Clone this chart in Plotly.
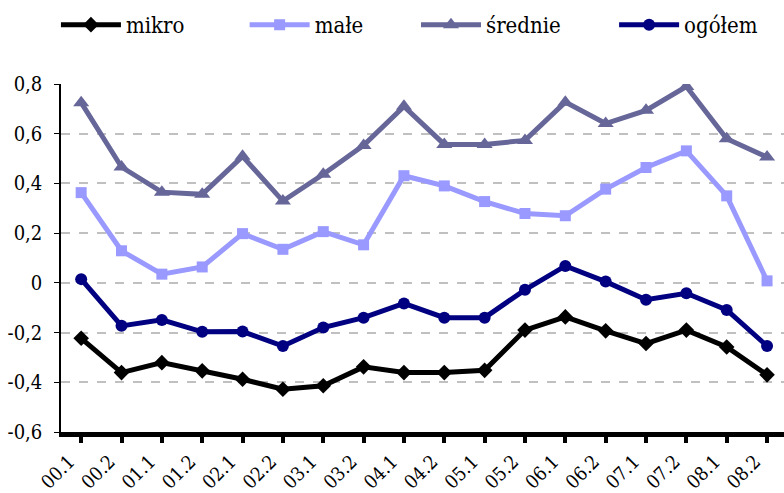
import plotly.graph_objects as go

# Half-year periods
periods = ["00.1", "00.2", "01.1", "01.2", "02.1", "02.2", "03.1", "03.2", "04.1",
           "04.2", "05.1", "05.2", "06.1", "06.2", "07.1", "07.2", "08.1", "08.2"]

mikro = [-0.223, -0.361, -0.321, -0.354, -0.388, -0.428, -0.414, -0.338, -0.361,
         -0.361, -0.352, -0.190, -0.137, -0.193, -0.244, -0.190, -0.258, -0.370]
male = [0.363, 0.129, 0.035, 0.064, 0.198, 0.135, 0.206, 0.153, 0.431,
        0.390, 0.327, 0.279, 0.270, 0.377, 0.464, 0.531, 0.350, 0.008]
srednie = [0.725, 0.466, 0.365, 0.356, 0.509, 0.329, 0.437, 0.553, 0.710,
           0.557, 0.557, 0.573, 0.727, 0.641, 0.694, 0.790, 0.580, 0.506]
ogolem = [0.015, -0.173, -0.149, -0.197, -0.196, -0.254, -0.180, -0.140, -0.083,
          -0.140, -0.140, -0.028, 0.068, 0.005, -0.068, -0.042, -0.109, -0.254]

y_ticks = [-0.6, -0.4, -0.2, 0, 0.2, 0.4, 0.6, 0.8]
y_labels = ["-0,6", "-0,4", "-0,2", "0", "0,2", "0,4", "0,6", "0,8"]

FONT = "DejaVu Serif Condensed, DejaVu Serif"
x = list(range(len(periods)))

series = [
    ("mikro", mikro, "#000000", "diamond", 12),
    ("małe", male, "#9999FF", "square", 11),
    ("średnie", srednie, "#666699", "triangle-up", 14),
    ("ogółem", ogolem, "#000080", "circle", 12),
]
# left edge (paper fraction) of each legend entry
legend_x = [-0.007, 0.254, 0.491, 0.765]

fig = go.Figure()
for i, (name, vals, color, symbol, size) in enumerate(series):
    fig.add_trace(go.Scatter(
        x=x, y=vals, name=name, mode="lines+markers",
        line=dict(color=color, width=5),
        marker=dict(symbol=symbol, size=size, color=color),
        legend="legend" if i == 0 else f"legend{i + 1}",
    ))

legend_style = dict(
    orientation="h", xanchor="left", y=1.17, yanchor="middle",
    font=dict(family=FONT, size=22, color="black"),
    itemwidth=60, bgcolor="rgba(0,0,0,0)",
)
legends = {}
for i, lx in enumerate(legend_x):
    key = "legend" if i == 0 else f"legend{i + 1}"
    legends[key] = dict(legend_style, x=lx)

fig.update_layout(
    width=784, height=493,
    margin=dict(l=61, r=0, t=84, b=61),
    paper_bgcolor="white", plot_bgcolor="white",
    font=dict(family=FONT, size=20, color="black"),
    showlegend=True,
    xaxis=dict(
        range=[-0.5, 17.42], automargin=False,
        tickmode="array", tickvals=x, ticktext=periods,
        tickson="boundaries", ticks="outside", ticklen=6, tickwidth=4,
        tickcolor="black", tickangle=-45,
        tickfont=dict(family=FONT, size=19),
        ticklabelshift=-12, ticklabelstandoff=0,
        showline=True, linecolor="black", linewidth=5,
        showgrid=False, zeroline=False,
    ),
    yaxis=dict(
        range=[-0.6, 0.8], automargin=False,
        tickmode="array", tickvals=y_ticks, ticktext=y_labels,
        ticks="outside", ticklen=5, tickwidth=1, tickcolor="black",
        ticklabelstandoff=8,
        tickfont=dict(family=FONT, size=20),
        showline=True, linecolor="black", linewidth=1.5,
        showgrid=True, gridcolor="#C0C0C0", gridwidth=1.5, griddash="dash",
        zeroline=False,
    ),
    **legends,
)

fig.write_html("out.html")
